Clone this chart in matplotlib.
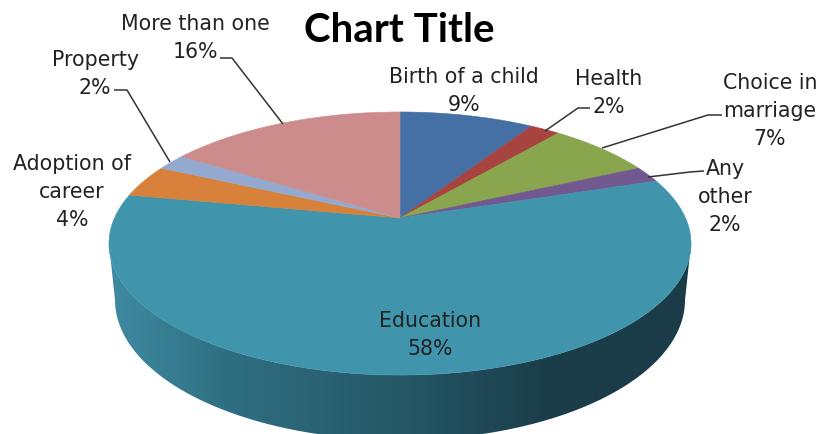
import numpy as np
import matplotlib
matplotlib.use("Agg")
import matplotlib.pyplot as plt
from matplotlib.colors import LinearSegmentedColormap
from matplotlib.patches import Polygon

categories = ["Birth of a child", "Health", "Choice in\nmarriage", "Any\nother", "Education",
              "Adoption of\ncareer", "Property", "More than one"]
values = [9, 2, 7, 2, 58, 4, 2, 16]
colors = ["#4570a5", "#a8443f", "#89a54e", "#71588f", "#4095ad", "#d8813b", "#93a9cf", "#cd8c8c"]

# where the labels sit, in pixels
label_pos = [(464, 91), (609, 93), (770, 111), (725, 197), (430, 335), (72, 192), (95, 74), (195, 38)]
leaders = {
    1: [(590, 108), (578, 108), (545, 131)],
    2: [(722, 115), (708, 115), (602, 148)],
    3: [(704, 171), (690, 172), (648, 177)],
    6: [(114, 90), (127, 90), (170, 162)],
    7: [(220, 58), (232, 58), (283, 124)],
}

# perspective of the pie, pixels
cx, cy = 400, 218
persp = 0.194
a = 126.6
b = 285.5
# lower rim of the wall
low_cy, low_rx, low_ry = 300, 285, 140


def project(pct):
    t = np.radians(np.asarray(pct) * 3.6)
    u, v = np.sin(t), np.cos(t)
    w = 1 + persp * v
    return cx + b * u / w, cy - a * v / w


fig = plt.figure(figsize=(8.19, 4.34), dpi=100)
ax = fig.add_axes([0, 0, 1, 1])
ax.set_xlim(0, 819)
ax.set_ylim(434, 0)
ax.axis("off")

# side wall, only the big slice shows it
start = sum(values[:4])
stop = start + values[4]
pp = np.linspace(start, stop, 400)
x, y = project(pp)
i0, i1 = np.argmax(x), np.argmin(x)
tt = np.linspace(np.pi, 0, 200)
side_x = np.r_[x[i0:i1 + 1], cx + low_rx * np.cos(tt)]
side_y = np.r_[y[i0:i1 + 1], low_cy + low_ry * np.sin(tt)]
side = Polygon(np.c_[side_x, side_y], closed=True, fc="none", ec="none")
ax.add_patch(side)
cmap = LinearSegmentedColormap.from_list("wall", [(0, "#3f8ba2"), (0.2, "#2f6f82"), (0.5, "#255866"),
                                                  (0.75, "#1b3e4a"), (1, "#1a3b47")])
im = ax.imshow(np.linspace(0, 1, 256)[None, :], cmap=cmap, extent=[109, 691, 445, 100], aspect="auto", zorder=1)
im.set_clip_path(side)
ax.set_xlim(0, 819)
ax.set_ylim(434, 0)

# top face
pos = 0
for val, col in zip(values, colors):
    pp = np.linspace(pos, pos + val, 120)
    x, y = project(pp)
    ax.fill(np.r_[cx, x], np.r_[cy, y], fc=col, ec=col, lw=0.4, zorder=2)
    pos += val

for i, (cat, val) in enumerate(zip(categories, values)):
    ax.text(label_pos[i][0], label_pos[i][1], f"{cat}\n{val}%", ha="center", va="center",
            fontsize=14.8, color="#222222", linespacing=1.47, zorder=4, family="DejaVu Sans")

for pts in leaders.values():
    xs, ys = zip(*pts)
    ax.plot(xs, ys, color="#333333", lw=1.1, zorder=3, solid_capstyle="butt")

ax.text(399, 31, "Chart Title", ha="center", va="center", fontsize=29, fontweight="bold",
        color="black", family="Lato", zorder=4)

fig.savefig("out.png", dpi=100)
